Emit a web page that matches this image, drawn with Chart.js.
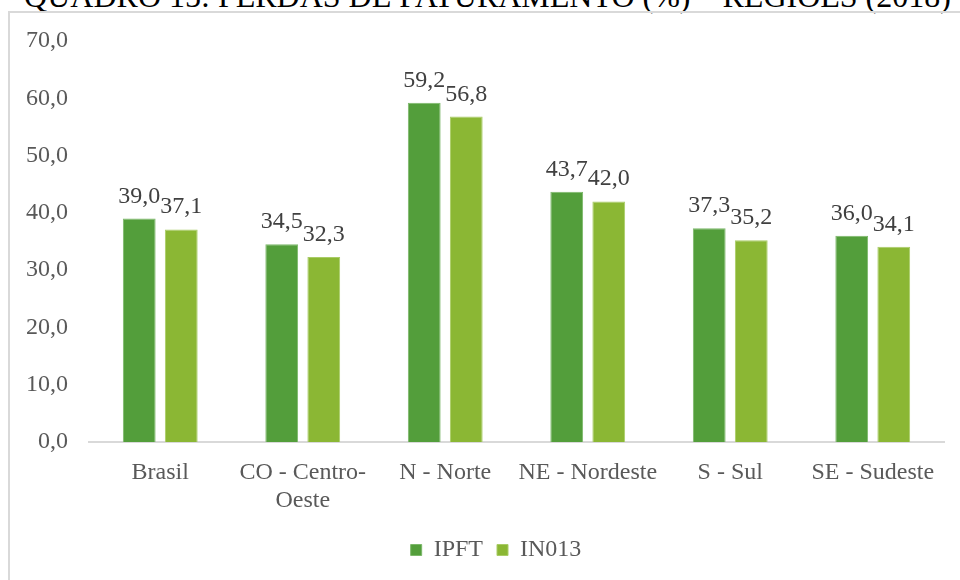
<!DOCTYPE html>
<html lang="pt">
<head>
  <meta charset="UTF-8">
  <title>Perdas de faturamento - regiões</title>
  <script src="https://cdn.jsdelivr.net/npm/chart.js"></script>
  <style>
    html, body { margin: 0; padding: 0; background: #fff; overflow: hidden; }
    body { width: 960px; height: 580px; position: relative; }
    .title { position: absolute; left: 0; width: 975px; top: -20px; text-align: center; line-height: 32px;
             font-family: 'Liberation Serif', 'Times New Roman', serif; font-size: 32px; color: #000; white-space: nowrap; }
    .frame { position: absolute; left: 8px; top: 11px; width: 1000px; height: 600px; border: 2px solid #d9d9d9; }
    .wrap { position: absolute; left: 0; top: 0; width: 960px; height: 580px; }
  </style>
</head>
<body>
  <div class="title">QUADRO 15: PERDAS DE FATURAMENTO (%) – REGIÕES (2018)</div>
  <div class="frame"></div>
  <div class="wrap"><canvas id="chart" width="960" height="580"></canvas></div>
  <script>
    const regioes = ['Brasil', ['CO - Centro-', 'Oeste'], 'N - Norte', 'NE - Nordeste', 'S - Sul', 'SE - Sudeste'];
    const ipft = [39.0, 34.5, 59.2, 43.7, 37.3, 36.0];
    const in013 = [37.1, 32.3, 56.8, 42.0, 35.2, 34.1];

    const fonte = "'Liberation Serif', 'Times New Roman', serif";
    const cinza = '#595959';
    const fmt = v => v.toFixed(1).replace('.', ',');

    Chart.defaults.font.family = fonte;
    Chart.defaults.font.size = 24;
    Chart.defaults.color = cinza;

    // rotulos de valor em cima das barras
    const rotulos = {
      id: 'rotulos',
      afterDatasetsDraw(chart) {
        const ctx = chart.ctx;
        ctx.save();
        ctx.font = '24px ' + fonte;
        ctx.fillStyle = '#404040';
        ctx.textAlign = 'center';
        ctx.textBaseline = 'alphabetic';
        chart.data.datasets.forEach((ds, i) => {
          chart.getDatasetMeta(i).data.forEach((bar, j) => {
            ctx.fillText(fmt(ds.data[j]), bar.x, bar.y - 16);
          });
        });
        ctx.restore();
      }
    };

    // legenda um pouco deslocada para a direita, como no original
    const moveLegenda = {
      id: 'moveLegenda',
      afterLayout(chart) {
        chart.legend.left += 19;
        chart.legend.right += 19;
      }
    };

    new Chart(document.getElementById('chart'), {
      type: 'bar',
      data: {
        labels: regioes,
        datasets: [
          { label: 'IPFT', data: ipft, backgroundColor: '#539e3b', borderColor: '#7cb86a', borderWidth: 1 },
          { label: 'IN013', data: in013, backgroundColor: '#8bb734', borderColor: '#a9cc66', borderWidth: 1 }
        ]
      },
      options: {
        responsive: false,
        animation: false,
        categoryPercentage: 0.59,
        barPercentage: 0.78,
        layout: { padding: { left: 10, right: 16, top: 41, bottom: 8 } },
        plugins: {
          legend: {
            position: 'bottom',
            labels: { font: { family: fonte, size: 24 }, color: cinza, boxWidth: 11, boxHeight: 11, padding: 14 }
          },
          title: { display: false },
          tooltip: { enabled: false }
        },
        scales: {
          y: {
            min: 0, max: 70,
            ticks: { stepSize: 10, callback: v => fmt(v), font: { family: fonte, size: 24 }, color: cinza, padding: 13 },
            grid: { display: false },
            border: { display: false },
            afterFit: s => { s.width = 79; }
          },
          x: {
            ticks: { font: { family: fonte, size: 24 }, color: cinza, padding: 8, maxRotation: 0, autoSkip: false },
            grid: { display: false },
            border: { display: true, color: '#d9d9d9', width: 2 },
            afterFit: s => { s.height = 82; }
          }
        }
      },
      plugins: [rotulos, moveLegenda]
    });
  </script>
</body>
</html>
